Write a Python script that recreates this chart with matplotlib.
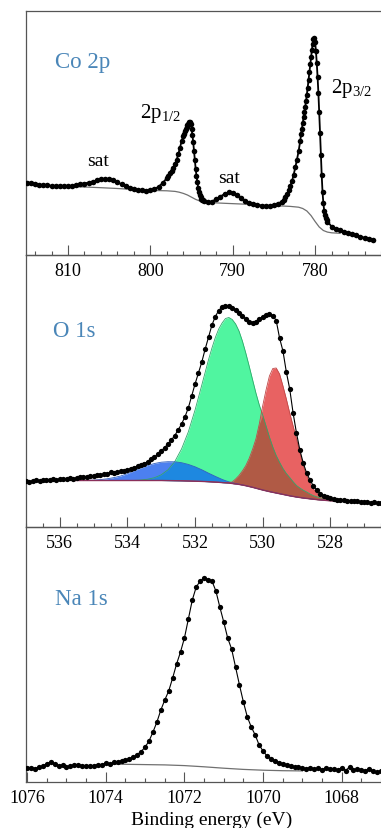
import numpy as np
import matplotlib
matplotlib.use('Agg')
import matplotlib.pyplot as plt
from matplotlib.ticker import MultipleLocator

plt.rcParams['font.family'] = ['Liberation Serif', 'DejaVu Serif']
plt.rcParams['mathtext.fontset'] = 'custom'
plt.rcParams['mathtext.rm'] = 'Liberation Serif'

# ---------------- Co 2p (intensity in arbitrary units) ----------------
co_energy = np.round(np.concatenate([
    np.arange(815.0, 797.99, -0.5),
    np.arange(797.8, 795.99, -0.2),
    np.arange(795.9, 793.49, -0.1),
    np.arange(793.0, 783.99, -0.5),
    np.arange(783.8, 781.79, -0.2),
    np.arange(781.7, 778.49, -0.1),
    np.arange(778.0, 772.99, -0.5),
]), 2)
co_counts = [
    # 815.0 - 798.0
    72.5, 72.0, 71.0, 70.3, 70.0, 69.6, 69.2, 69.0, 68.8, 68.6,
    68.7, 69.2, 70.0, 70.8, 71.5, 72.4, 73.5, 74.6, 75.6, 76.2,
    76.0, 74.8, 72.8, 70.6, 68.6, 67.0, 65.8, 65.0, 64.6, 64.4,
    64.8, 66.0, 68.3, 72.0, 77.0,
    # 797.8 - 796.0
    79.5, 82.0, 84.5, 87.0, 91.0, 95.5, 101.0, 107.5, 114.0, 119.0,
    # 795.9 - 793.5
    121.5, 124.0, 126.0, 128.0, 130.0, 131.5, 133.0, 133.5, 131.0, 126.0,
    120.0, 113.0, 104.0, 95.0, 86.0, 79.0, 73.0, 67.5, 63.0, 60.0,
    58.0, 56.5, 55.5, 55.0, 54.5,
    # 793.0 - 784.0
    53.0, 53.5, 56.0, 58.5, 61.0, 62.7, 62.5, 60.0, 57.0, 54.5,
    52.5, 51.0, 50.0, 49.5, 49.0, 49.2, 50.0, 51.5, 53.5,
    # 783.8 - 781.8
    55.5, 58.0, 61.0, 65.0, 69.5, 74.0, 80.5, 87.7, 95.5, 104.0, 114.5,
    # 781.7 - 778.5
    121.0, 126.5, 132.0, 137.7, 143.0, 148.5, 154.0, 160.5, 167.5, 175.0,
    183.0, 191.0, 198.5, 205.5, 211.5, 216.5, 217.0, 213.0, 204.0, 192.0,
    178.0, 162.0, 143.0, 122.0, 100.0, 80.0, 63.0, 52.0, 44.5, 40.0,
    37.0, 35.0, 33.5,
    # 778.0 - 773.0
    28.5, 26.3, 24.8, 23.0, 21.8, 20.8, 19.6, 18.5, 17.3, 16.3, 15.5,
]
co_bg_energy = [815.0, 812.0, 810.0, 808.0, 806.0, 804.0, 802.0, 800.0, 798.0,
                797.0, 796.5, 796.0, 795.5, 795.0, 794.5, 794.0, 793.5, 793.0,
                791.0, 789.0, 787.0, 785.0, 784.0, 783.0, 782.0, 781.5, 781.0,
                780.5, 780.0, 779.5, 779.0, 778.5, 778.0, 777.0]
co_bg = [71.0, 69.5, 68.5, 68.0, 67.3, 66.5, 65.5, 64.6, 64.2,
         63.6, 62.8, 61.6, 60.0, 57.8, 55.6, 54.0, 53.0, 52.5,
         51.7, 51.0, 50.2, 49.0, 49.0, 48.6, 47.8, 46.5, 44.0,
         39.5, 33.5, 28.0, 24.5, 22.9, 22.2, 21.7]

# ---------------- O 1s ----------------
o_energy = np.round(np.arange(537.0, 526.49, -0.1), 2)
o_counts = [
    46.0, 45.5, 46.2, 46.8, 46.3, 47.0, 46.6, 47.3, 47.8, 47.2,
    48.0, 47.6, 48.3, 48.8, 48.4, 49.2, 49.8, 50.3, 50.0, 51.2,
    51.0, 51.8, 52.3, 52.8, 53.5, 54.6, 54.2, 55.3, 55.8, 56.5,
    57.2, 58.3, 59.5, 61.0, 62.2, 63.5, 65.5, 68.0, 70.0, 72.8,
    76.0, 79.5, 83.0, 87.0, 91.5, 97.0, 103.0, 110.0, 119.0, 131.0,
    143.0, 154.0, 165.0, 178.0, 190.0, 202.0, 210.5, 216.5, 220.0, 221.5,
    221.0, 219.5, 217.0, 214.5, 211.5, 208.0, 205.5, 204.5, 205.5, 208.0,
    210.5, 212.5, 213.0, 211.5, 206.5, 189.0, 176.0, 155.0, 138.0, 114.0,
    94.0, 77.0, 64.0, 54.0, 47.0, 41.0, 37.0, 33.5, 31.5, 29.8,
    28.6, 28.0, 27.3, 27.0, 26.6, 26.2, 26.0, 25.7, 25.9, 25.3,
    25.2, 24.8, 24.5, 24.6, 24.1, 24.0,
]
o_fit_energy = np.round(np.concatenate([
    np.arange(535.6, 531.79, -0.2),
    np.arange(531.6, 527.99, -0.1),
    [527.8, 527.6],
]), 2)
o_base = [
    46.5, 46.5, 46.5, 46.5, 46.5, 46.5, 46.5, 46.5, 46.5, 46.5,
    46.5, 46.5, 46.5, 46.5, 46.4, 46.3, 46.2, 46.0, 45.8, 45.6,
    45.3, 45.1, 44.9, 44.7, 44.4, 44.2, 44.0, 43.5, 43.1, 42.6,
    42.0, 41.3, 40.5, 39.7, 38.8, 37.9, 37.0, 36.2, 35.4, 34.7,
    34.0, 33.3, 32.6, 31.9, 31.2, 30.6, 30.0, 29.5, 29.0, 28.6,
    28.2, 27.8, 27.4, 27.1, 26.8, 26.5, 26.3, 26.0, 25.8,
]
o_blue = [
    46.5, 46.5, 46.6, 46.9, 47.4, 48.2, 49.4, 51.0, 53.3, 56.3,
    59.0, 61.5, 63.5, 64.8, 65.3, 65.2, 64.3, 62.6, 60.2, 57.2,
    53.8, 52.2, 50.6, 49.1, 47.6, 46.3, 45.2, 44.3, 43.5, 42.8,
    42.1, 41.4, 40.5, 39.7, 38.8, 37.9, 37.0, 36.2, 35.4, 34.7,
    34.0, 33.3, 32.6, 31.9, 31.2, 30.6, 30.0, 29.5, 29.0, 28.6,
    28.2, 27.8, 27.4, 27.1, 26.8, 26.5, 26.3, 26.0, 25.8,
]
o_green = [
    46.5, 46.5, 46.5, 46.5, 46.5, 46.5, 46.5, 46.5, 46.5, 46.6,
    47.0, 47.8, 49.3, 52.2, 57.2, 65.4, 78.0, 95.0, 117.0, 142.0,
    167.5, 179.0, 189.5, 198.0, 204.0, 208.5, 209.5, 207.5, 203.0, 196.0,
    186.0, 174.0, 161.0, 147.5, 134.0, 122.0, 112.0, 101.0, 90.0, 80.0,
    71.5, 64.7, 58.5, 53.5, 49.5, 45.3, 41.5, 39.0, 36.8, 35.0,
    33.0, 31.3, 30.2, 29.2, 28.5, 27.7, 27.2, 26.4, 25.9,
]
o_red = [
    46.5, 46.5, 46.5, 46.5, 46.5, 46.5, 46.5, 46.5, 46.5, 46.5,
    46.5, 46.5, 46.5, 46.5, 46.4, 46.3, 46.2, 46.0, 45.8, 45.6,
    45.3, 45.1, 44.9, 44.7, 44.4, 44.2, 44.3, 45.0, 48.0, 51.5,
    56.0, 61.3, 68.5, 77.5, 88.0, 103.0, 121.0, 137.0, 151.0, 158.5,
    159.0, 153.0, 141.0, 128.0, 114.0, 101.0, 88.0, 74.5, 61.3, 51.5,
    44.0, 38.0, 34.0, 30.8, 28.5, 27.3, 26.6, 26.0, 25.8,
]

# ---------------- Na 1s ----------------
na_energy = np.round(np.arange(1076.0, 1066.99, -0.1), 2)
na_counts = [
    3.7, 4.5, 3.5, 5.0, 6.0, 8.5, 10.0, 8.0, 6.5, 7.0,
    5.0, 6.5, 7.0, 7.2, 6.5, 6.0, 5.8, 6.5, 7.5, 7.0,
    9.5, 8.0, 9.7, 10.5, 11.0, 12.0, 13.5, 14.7, 17.5, 20.5,
    25.0, 31.0, 40.0, 50.0, 62.0, 72.0, 81.0, 94.0, 108.0, 120.0,
    134.0, 153.0, 172.0, 185.0, 191.0, 194.0, 192.5, 191.0, 181.0, 165.0,
    150.0, 134.0, 123.0, 105.0, 87.0, 70.0, 55.0, 45.0, 37.0, 27.0,
    21.0, 16.0, 13.5, 11.5, 9.5, 8.0, 7.0, 6.5, 5.0, 4.7,
    4.0, 3.5, 4.5, 3.0, 3.8, 2.5, 4.0, 2.8, 3.0, 2.0,
    4.5, 1.5, 5.0, 2.0, 3.0, 2.5, 1.5, 3.0, 1.0, 0.0,
    1.5,
]
na_bg_energy = [1073.9, 1073.5, 1073.0, 1072.5, 1072.0, 1071.5, 1071.0,
                1070.5, 1070.0, 1069.5, 1069.0]
na_bg = [8.0, 7.7, 7.4, 7.1, 6.4, 5.2, 3.8, 2.6, 1.8, 1.3, 1.1]

label_color = '#4a86b8'
spine_color = '#555555'

W, H = 381, 829
fig = plt.figure(figsize=(W / 100, H / 100), dpi=100)


def make_axes(top_px, bottom_px):
    ax = fig.add_axes([26 / W, 1 - bottom_px / H, (W - 26) / W, (bottom_px - top_px) / H])
    ax.patch.set_visible(False)  # keep tick labels of the panel above visible
    ax.spines['right'].set_visible(False)
    for s in ('left', 'bottom', 'top'):
        ax.spines[s].set_color(spine_color)
        ax.spines[s].set_linewidth(0.9)
    ax.set_yticks([])
    ax.tick_params(axis='x', which='both', direction='in', bottom=True, top=False,
                   color=spine_color, labelsize=13, pad=5)
    ax.tick_params(axis='x', which='major', length=7, width=0.8)
    ax.tick_params(axis='x', which='minor', length=3, width=0.8)
    return ax


ax1 = make_axes(12, 256)
ax2 = make_axes(256, 528)
ax3 = make_axes(528, 783)

# Co 2p
ax1.plot(co_bg_energy, co_bg, color='#707070', lw=0.9, zorder=2)
ax1.plot(co_energy, co_counts, color='black', lw=1.3, marker='o', ms=4.0,
         markeredgewidth=0, zorder=3)
ax1.set_xlim(815.1, 772.0)
ax1.set_ylim(0, 244)
ax1.xaxis.set_major_locator(MultipleLocator(10))
ax1.xaxis.set_minor_locator(MultipleLocator(2))
ax1.text(811.6, 188, 'Co 2p', color=label_color, fontsize=16.5, va='baseline')
ax1.text(801.3, 138, r'2p$_{\mathregular{1/2}}$', fontsize=15, va='baseline')
ax1.text(778.1, 163, r'2p$_{\mathregular{3/2}}$', fontsize=15, va='baseline')
ax1.text(807.7, 90, 'sat', fontsize=14, va='baseline')
ax1.text(791.8, 73, 'sat', fontsize=14, va='baseline')

# O 1s
base = np.array(o_base)
green = np.array(o_green)
blue = np.array(o_blue)
red = np.array(o_red)
ax2.fill_between(o_fit_energy, base, green, color='#50f5a0', lw=0, zorder=1)
ax2.fill_between(o_fit_energy, base, blue, color='#4c80f0', lw=0, zorder=1.1)
ax2.fill_between(o_fit_energy, base, red, color='#e86262', lw=0, zorder=1.2)
ax2.fill_between(o_fit_energy, base, np.minimum(blue, green), color='#1e88e0',
                 lw=0, zorder=1.3)
ax2.fill_between(o_fit_energy, base, np.minimum(red, green), color='#b05a45',
                 lw=0, zorder=1.4)
ax2.plot(o_fit_energy, green, color='#2fa86a', lw=0.6, zorder=1.5)
ax2.plot(o_fit_energy, blue, color='#2f5fc0', lw=0.6, zorder=1.5)
ax2.plot(o_fit_energy, red, color='#c04848', lw=0.6, zorder=1.5)
ax2.plot(o_fit_energy, base, color='#8a2f5a', lw=1.0, zorder=1.6)
ax2.plot(o_energy, o_counts, color='black', lw=0.8, marker='o', ms=3.8,
         markeredgewidth=0, zorder=3)
ax2.set_xlim(537.0, 526.5)
ax2.set_ylim(0, 272)
ax2.xaxis.set_major_locator(MultipleLocator(2))
ax2.xaxis.set_minor_locator(MultipleLocator(0.5))
ax2.text(536.2, 191, 'O 1s', color=label_color, fontsize=16.5, va='baseline')

# Na 1s
ax3.plot(na_bg_energy, na_bg, color='#707070', lw=0.9, zorder=2)
ax3.plot(na_energy, na_counts, color='black', lw=0.8, marker='o', ms=3.8,
         markeredgewidth=0, zorder=3)
ax3.set_xlim(1076.03, 1067.0)
ax3.set_ylim(-10, 245)
ax3.xaxis.set_major_locator(MultipleLocator(2))
ax3.xaxis.set_minor_locator(MultipleLocator(0.5))
ax3.text(1075.3, 168, 'Na 1s', color=label_color, fontsize=16.5, va='baseline')

fig.text(212 / W, 1 - 820 / H, 'Binding energy (eV)', fontsize=14,
         ha='center', va='center')

fig.savefig('out.png', dpi=100)
